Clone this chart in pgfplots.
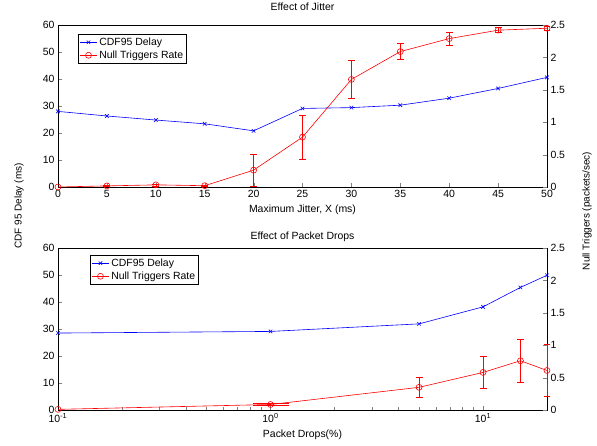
\documentclass[border=0pt]{standalone}
\usepackage{pgfplots}
\pgfplotsset{compat=1.18}
\usepackage{fontspec}
\setmainfont{Liberation Sans}
\newcommand{\fs}{\fontsize{10.5}{12}\selectfont}
\pgfplotsset{
  every axis/.append style={
    scale only axis, width=489bp, height=162bp,
    font=\fs,
    /pgf/number format/assume math mode=true,
    tick label style={font=\fs},
    clip=false,
    legend style={font=\fs, draw=black, anchor=north west, cells={anchor=west}, inner sep=1.5pt},
  },
  ebar/.style={red, line width=0.6pt, mark=-, mark size=#1, mark options={solid, red}, forget plot},
  ebar/.default=3.5pt,
}
\begin{document}
\begin{tikzpicture}
\path[use as bounding box] (-58bp,-259bp) rectangle (539bp,187bp);
% ---------------- top ----------------
\begin{axis}[at={(0,0)}, anchor=south west,
  xmin=0, xmax=50, ymin=0, ymax=60,
  xtick={0,5,...,50}, ytick={0,10,...,60},
  xtick pos=left, ytick pos=left,
  title={Effect of Jitter},
  title style={at={(0.5,1)}, anchor=base, yshift=9bp},
  xlabel={Maximum Jitter, X (ms)},
  legend style={at={(0.0409,0.9444)}}]
\addplot[blue, line width=0.6pt, mark=x, mark size=2.5pt] coordinates {
 (0,28.0) (5,26.3) (10,24.8) (15,23.4) (20,20.8) (25,29.1)
 (30,29.4) (35,30.3) (40,32.9) (45,36.5) (50,40.6)};
\addlegendentry{CDF95 Delay}
\addlegendimage{red, line width=0.6pt, mark=o, mark size=3pt}
\addlegendentry{Null Triggers Rate}
\end{axis}
\begin{axis}[at={(0,0)}, anchor=south west,
  xmin=0, xmax=50, ymin=0, ymax=2.5,
  axis y line*=right, axis x line=none,
  ytick={0,0.5,...,2.5}]
% error bars: lower and upper ends
\addplot[ebar] coordinates {(5,0.007) (5,0.027)};
\addplot[ebar] coordinates {(10,0.018) (10,0.048)};
\addplot[ebar] coordinates {(15,0.01) (15,0.03)};
\addplot[ebar] coordinates {(20,0.01) (20,0.51)};
\addplot[ebar] coordinates {(25,0.43) (25,1.11)};
\addplot[ebar] coordinates {(30,1.37) (30,1.95)};
\addplot[ebar] coordinates {(35,1.97) (35,2.21)};
\addplot[ebar] coordinates {(40,2.19) (40,2.39)};
\addplot[ebar] coordinates {(45,2.38) (45,2.46)};
\addplot[ebar] coordinates {(50,2.42) (50,2.48)};
\addplot[red, line width=0.6pt, mark=o, mark size=3pt] coordinates {
 (0,0.0) (5,0.017) (10,0.033) (15,0.02) (20,0.26) (25,0.77)
 (30,1.66) (35,2.09) (40,2.29) (45,2.42) (50,2.45)};
\end{axis}
% ---------------- bottom ----------------
\begin{axis}[at={(0,-223bp)}, anchor=south west,
  xmode=log, xmin=0.1, xmax=20, ymin=0, ymax=60,
  xtick={0.1,1,10}, xticklabels={10\textsuperscript{-1},10\textsuperscript{0},10\textsuperscript{1}},
  ytick={0,10,...,60},
  xtick pos=left, ytick pos=left,
  title={Effect of Packet Drops},
  title style={at={(0.5,1)}, anchor=base, yshift=3bp},
  xlabel={Packet Drops(\%)},
  legend style={at={(0.0654,0.957)}}]
\addplot[blue, line width=0.6pt, mark=x, mark size=2.5pt] coordinates {
 (0.1,28.5) (1,29.1) (5,31.9) (10,38.2) (15,45.4) (20,49.9)};
\addlegendentry{CDF95 Delay}
\addlegendimage{red, line width=0.6pt, mark=o, mark size=3pt}
\addlegendentry{Null Triggers Rate}
\end{axis}
\begin{axis}[at={(0,-223bp)}, anchor=south west,
  xmode=log, xmin=0.1, xmax=20, ymin=0, ymax=2.5,
  axis y line*=right, axis x line=none,
  ytick={0,0.5,...,2.5}]
\addplot[ebar=18bp] coordinates {(1,0.065) (1,0.105)};
\addplot[ebar] coordinates {(5,0.20) (5,0.50)};
\addplot[ebar] coordinates {(10,0.33) (10,0.83)};
\addplot[ebar] coordinates {(15,0.43) (15,1.09)};
\addplot[ebar] coordinates {(20,0.21) (20,1.01)};
\addplot[red, line width=0.6pt, mark=o, mark size=3pt] coordinates {
 (0.1,0.01) (1,0.085) (5,0.35) (10,0.58) (15,0.76) (20,0.61)};
\end{axis}
\node[rotate=90] at (-39bp,-19bp) {CDF 95 Delay (ms)};
\node[rotate=90] at (529bp,-24bp) {Null Triggers (packets/sec)};
\end{tikzpicture}
\end{document}
